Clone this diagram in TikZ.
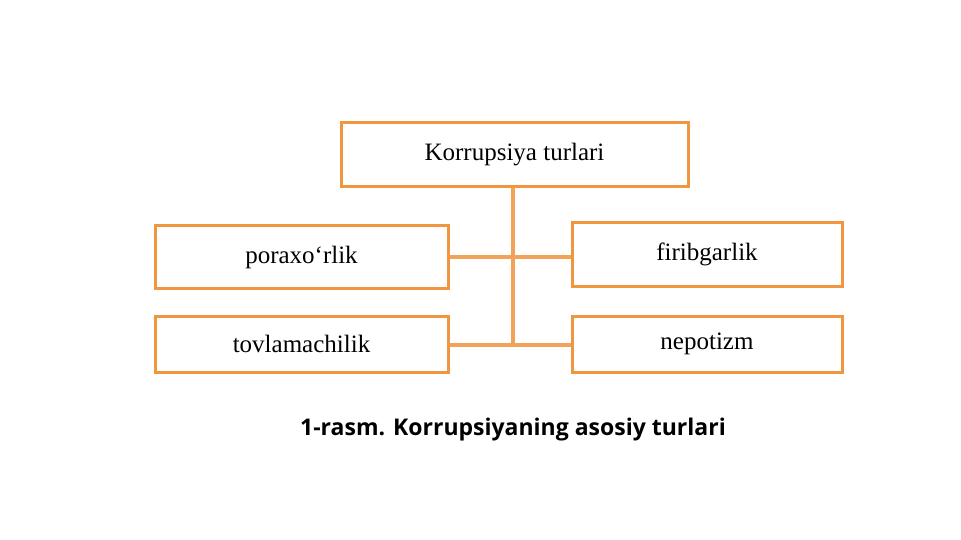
\documentclass[tikz,border=0pt]{standalone}
\usepackage{fontspec}
\setmainfont{Liberation Serif}
\newfontfamily\capfont{Open Sans}
\definecolor{boxor}{HTML}{F0963F}
\definecolor{lineor}{HTML}{F2A35A}
\begin{document}
\begin{tikzpicture}[x=1pt,y=-1pt,
  box/.style={draw=boxor,line width=3pt,fill=white,font=\fontsize{25}{30}\selectfont},
  conn/.style={draw=lineor,line width=4pt}]
\useasboundingbox (0,0) rectangle (961,540);
\node[box,minimum width=347pt,minimum height=64pt] (top) at (514.5,155) {Korrupsiya turlari};
\node[box,minimum width=293pt,minimum height=62pt] (p) at (301.5,257) {poraxo‘rlik};
\node[box,minimum width=293pt,minimum height=56pt] (t) at (301.5,344) {tovlamachilik};
\node[box,minimum width=270pt,minimum height=63pt] (f) at (707,254.5) {firibgarlik};
\node[box,minimum width=270pt,minimum height=56pt] (n) at (707,344) {nepotizm};
\coordinate (j1) at (513,257);
\coordinate (j2) at (513,345);
\draw[conn] (top.south -| j1) -- (j2);
\draw[conn] (p.east |- j1) -- (f.west |- j1);
\draw[conn] (t.east |- j2) -- (n.west |- j2);
\node[font=\capfont\bfseries\fontsize{23}{28}\selectfont] (cap) at (513,430) {1-rasm. Korrupsiyaning asosiy turlari};
\end{tikzpicture}
\end{document}
